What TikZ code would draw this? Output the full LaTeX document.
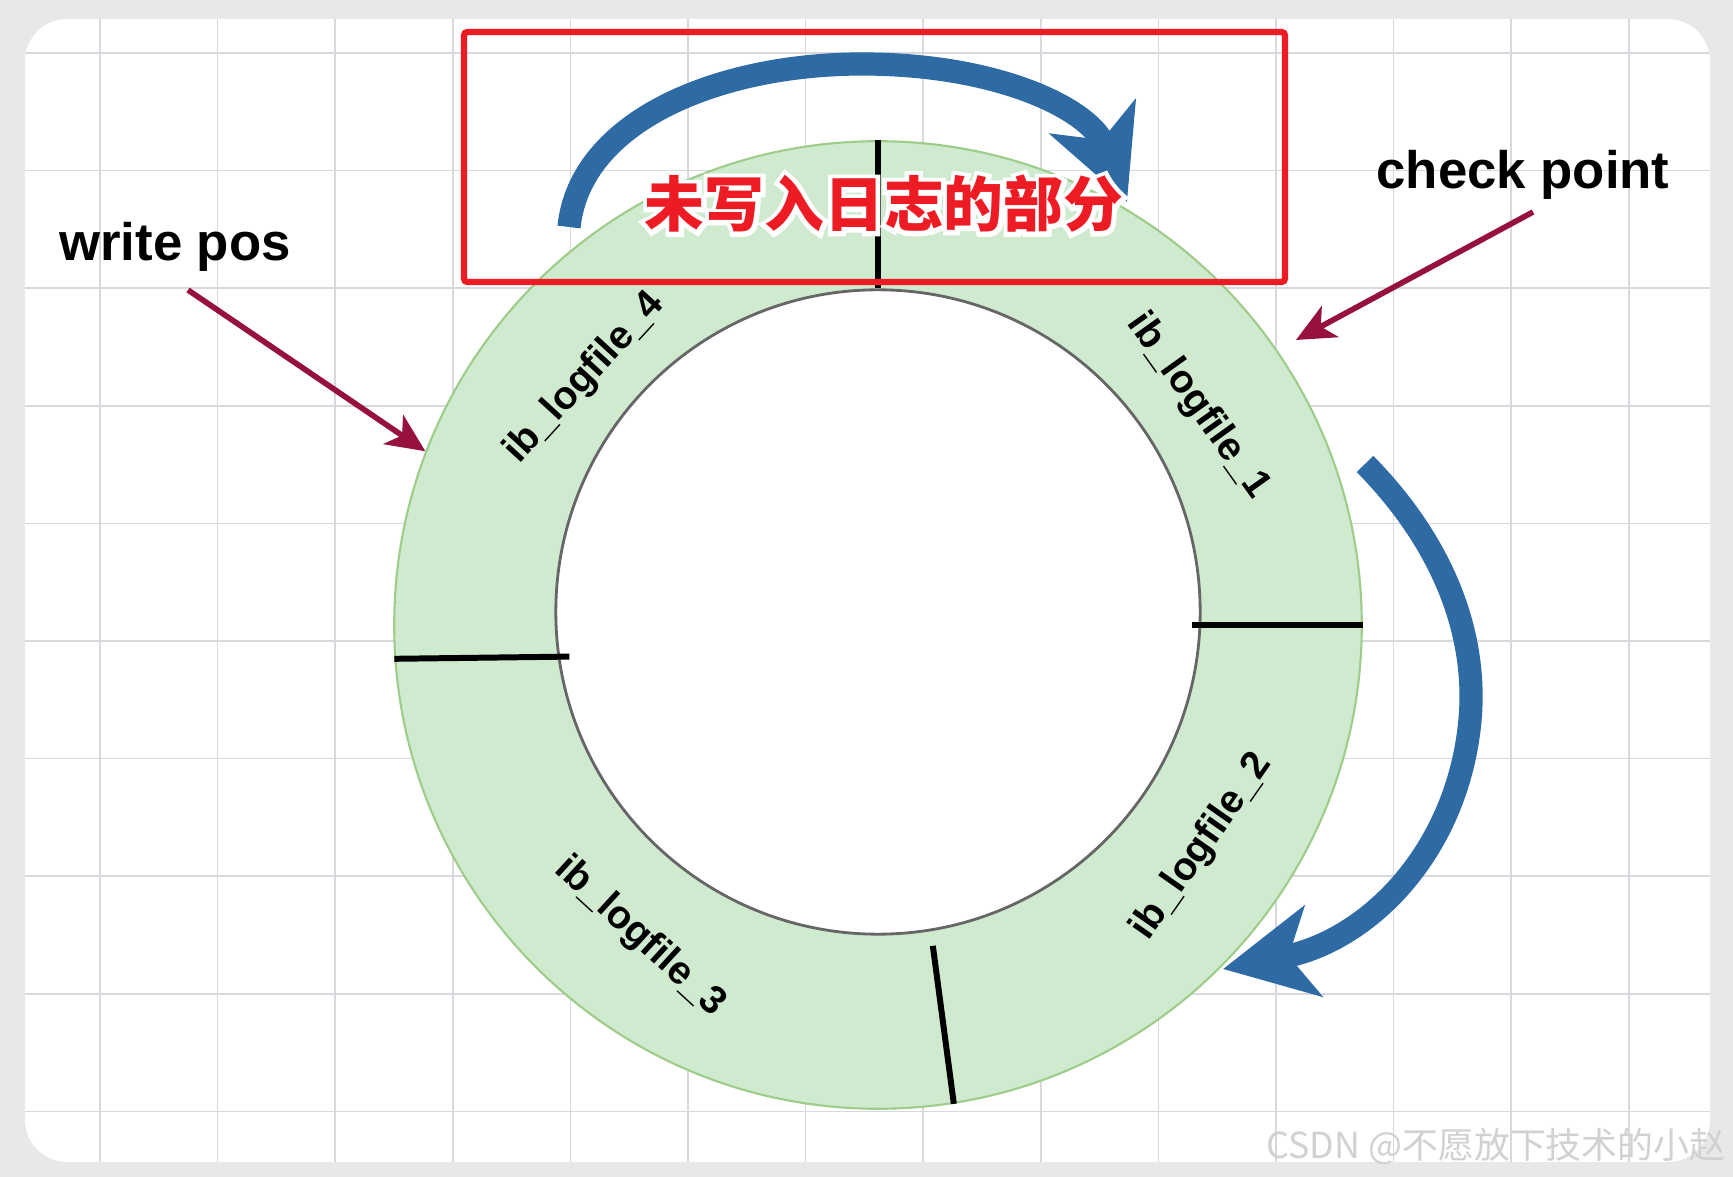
\documentclass[tikz,border=0pt]{standalone}
\usepackage{fontspec}
\setmainfont{Liberation Sans}
\newfontfamily\cjk{Noto Sans CJK SC}
\usepackage{xcolor}
\usepackage{tikz}
\usetikzlibrary{arrows.meta}
\usetikzlibrary{positioning}
\definecolor{ringgreen}{RGB}{208,234,208}
\definecolor{ringedge}{RGB}{158,204,138}
\definecolor{logblue}{RGB}{46,106,164}
\definecolor{pointred}{RGB}{150,16,64}
\definecolor{boxred}{RGB}{237,28,36}
\definecolor{gridgray}{RGB}{216,216,222}
\definecolor{backgray}{RGB}{232,232,234}
\tikzstyle{caption} = [font=\fontsize{15pt}{18pt}\selectfont\bfseries, text=black]
\tikzstyle{logname} = [font=\fontsize{11.2pt}{13pt}\selectfont\bfseries, text=black, inner sep=0pt]
\tikzstyle{divider} = [line width=1.7pt, black]
\tikzstyle{pointer} = [line width=1.6pt, pointred, -{Stealth[length=11pt, width=10pt, inset=3pt]}]
\tikzstyle{bigarrow} = [line width=6.6pt, logblue, -{Stealth[length=26pt, width=26pt, inset=7pt]}]
\tikzstyle{gridline} = [line width=0.45pt, gridgray]
\tikzstyle{title} = [font=\cjk\bfseries\fontsize{17pt}{20pt}\selectfont]
\newcommand{\strokeon}[1]{\special{pdf:literal direct 1 Tr #1 w}}
\newcommand{\strokeoff}{\special{pdf:literal direct 0 Tr}}

\begin{document}
\begin{tikzpicture}[x=0.01cm, y=-0.01cm]
    \useasboundingbox (0,0) rectangle (1733,1177);
    \fill[backgray] (0,0) rectangle (1733,1177);
    \fill[white, rounded corners=12pt] (25,19) rectangle (1710,1162);
    \begin{scope}
      \clip[rounded corners=12pt] (25,19) rectangle (1710,1162);
      \foreach \i in {0,...,13}
        \draw[gridline] ({100+117.6*\i},19) -- ({100+117.6*\i},1162);
      \foreach \j in {0,...,9}
        \draw[gridline] (25,{53+117.6*\j}) -- (1710,{53+117.6*\j});
    \end{scope}

    \node(outer)[circle, minimum size=9.67cm, inner sep=0pt, fill=ringgreen, draw=ringedge, line width=0.6pt] at (878,625) {};
    \node(inner)[circle, minimum size=6.44cm, inner sep=0pt, fill=white, draw=black!60, line width=0.8pt] at (878,612) {};
    \draw[divider](outer.north)--(inner.north);
    \draw[divider](outer.east)--([xshift=-0.1cm]outer.east -| inner.east);
    \draw[divider](outer.184)--++(175,-2.2);
    \draw[divider](outer.-81.7)--++(-21,-158);

    \node(log4)[logname, rotate=47.5] at (585,378) {ib\_logfile\_4};
    \node(log1)[logname, rotate=-54.5] at (1198,406) {ib\_logfile\_1};
    \node(log2)[logname, rotate=55] at (1202,847) {ib\_logfile\_2};
    \node(log3)[logname, rotate=-42.5] at (640,937) {ib\_logfile\_3};

    \draw[boxred, line width=1.8pt, rounded corners=1pt](464,32) rectangle (1285,282);

    \coordinate(topfrom) at (569,227);
    \coordinate(topto) at (1127,202);
    \draw[bigarrow](topfrom) .. controls (580,120) and (720,64) .. (862,64) .. controls (1000,64) and (1090,110) .. (topto);
    \coordinate(sidefrom) at (1365,464);
    \coordinate(sideto) at (1223,969);
    \draw[bigarrow](sidefrom) .. controls (1440,540) and (1478,630) .. (1470,720) .. controls (1458,850) and (1370,940) .. (sideto);

    \node(wpos)[caption] at (175,247) {write pos};
    \node(cpt)[caption] at (1523,175) {check point};
    \coordinate(cptto) at (1296,340);
    \draw[pointer]([xshift=0.13cm, yshift=-0.06cm]wpos.south)--(outer.159);
    \draw[pointer]([xshift=0.1cm]cpt.south)--(cptto);

    \node(halo)[title, text=white] at (884,204) {\strokeon{2.6}未写入日志的部分\strokeoff};
    \node(unwritten)[title, text=boxred] at (884,204) {未写入日志的部分};
    \node(mark)[font=\cjk\fontsize{10.2pt}{12pt}\selectfont, text=black!18, anchor=east, inner sep=0pt] at (1726,1146) {CSDN @不愿放下技术的小赵};
\end{tikzpicture}
\end{document}
